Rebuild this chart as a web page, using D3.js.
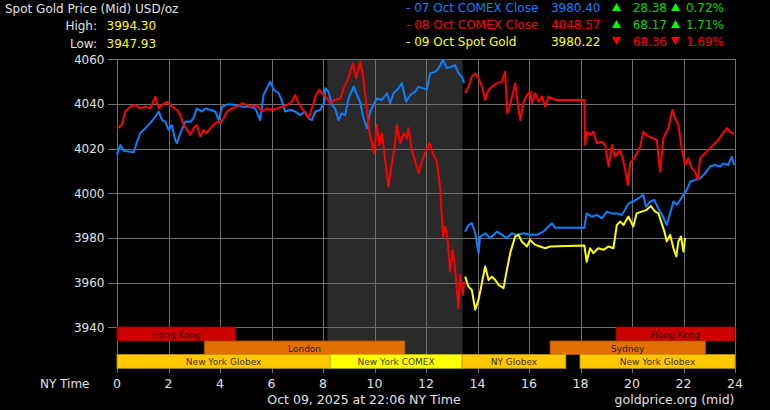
<!DOCTYPE html>
<html>
<head>
<meta charset="utf-8">
<script src="https://cdn.jsdelivr.net/npm/d3@7"></script>
<style>
  body { margin: 0; background: #000; }
  svg { display: block; font-family: "DejaVu Sans", sans-serif; }
</style>
</head>
<body>
<div id="chart"></div>
<script>
// hours in NY time, prices in USD/oz; null marks the gap at the COMEX close
const hourTicks = d3.range(0, 25, 2);
const priceTicks = [3940, 3960, 3980, 4000, 4020, 4040, 4060];

const oct07 = [[0,4017.2],[0.13,4021.6],[0.26,4019],[0.65,4018.4],[0.78,4023.1],[0.9,4026.9],[1.1,4029.1],[1.29,4031.4],[1.49,4034.3],[1.62,4036.6],[1.75,4032.8],[1.88,4032],[2.0,4028.4],[2.13,4030.6],[2.26,4023.9],[2.33,4022.4],[2.46,4026.9],[2.65,4032],[2.85,4032],[2.97,4033.6],[3.1,4038],[3.3,4036.6],[3.43,4038],[3.62,4037.3],[3.82,4036.6],[3.95,4032.8],[4.08,4038.8],[4.33,4039.9],[4.59,4039.5],[4.85,4038.8],[5.11,4038.8],[5.37,4038],[5.56,4032.8],[5.69,4044],[5.82,4047],[5.95,4050],[6.08,4046.3],[6.28,4044.8],[6.41,4041],[6.53,4036.6],[6.73,4037.3],[6.92,4036.6],[7.12,4035],[7.31,4036.6],[7.44,4033.6],[7.57,4032.8],[7.7,4036.6],[7.89,4037.3],[8.06,4041],
  [8.09,4047],[8.21,4045.5],[8.35,4039.5],[8.47,4038],[8.6,4032.8],[8.73,4035.8],[8.86,4035],[8.99,4042.5],[9.19,4047.7],[9.32,4044],[9.44,4041],[9.57,4033.6],[9.71,4029.1],[9.83,4036.6],[9.96,4039.5],[10.09,4042.5],[10.29,4041.8],[10.48,4044.8],[10.61,4040.3],[10.74,4044.8],[10.93,4047],[11.06,4049.3],[11.23,4041],[11.39,4044],[11.58,4045.5],[11.71,4047.7],[11.9,4047],[12.03,4046.3],[12.16,4053.7],[12.36,4054.5],[12.49,4056],[12.66,4059.7],[12.81,4056],[13.0,4056.7],[13.13,4057.4],[13.26,4053.7],[13.39,4052.2],[13.48,4049.3],[13.5,null],
  [13.52,3982.8],[13.65,3985.8],[13.78,3986.6],[13.91,3982.1],[14.04,3973.2],[14.1,3980.6],[14.3,3982.1],[14.49,3979.9],[14.75,3982.8],[14.95,3981.4],[15.14,3979.9],[15.33,3982.1],[15.53,3981.4],[15.79,3982.1],[16.04,3981.4],[16.3,3981.4],[16.56,3982.8],[16.76,3985.1],[16.89,3986.6],[17.01,3984.6],[18.15,3984.6],[18.24,3991],[18.44,3989.5],[18.63,3990.3],[18.83,3988.8],[19.02,3991.8],[19.22,3991],[19.41,3991],[19.6,3990.3],[19.73,3992.6],[19.86,3995.5],[20.05,3996.3],[20.25,3997.8],[20.44,3999.3],[20.54,3994],[20.7,3996.3],[20.86,3997],[21.02,3993.3],[21.17,3990.3],[21.35,3985.8],[21.48,3991],[21.61,3996.3],[21.74,3994.8],[21.87,3997],[22.0,3999.3],[22.13,4001.5],[22.26,4005.2],[22.45,4006],[22.65,4006.7],[22.84,4009],[23.03,4012],[23.22,4012.7],[23.42,4012],[23.55,4013.4],[23.74,4012.7],[23.87,4016.4],[23.97,4012.7]];

const oct08 = [[0,4029.1],[0.19,4030.6],[0.32,4036.6],[0.52,4038.8],[0.71,4039.5],[0.9,4038],[1.1,4038.8],[1.29,4038],[1.49,4043.3],[1.62,4038],[1.75,4039.5],[1.94,4041],[2.13,4038.8],[2.33,4037.3],[2.46,4035],[2.59,4030.6],[2.72,4028.4],[2.85,4026.1],[2.97,4029.1],[3.1,4030.6],[3.23,4025.4],[3.36,4028.4],[3.49,4026.9],[3.62,4029.1],[3.75,4030.6],[3.88,4032],[4.01,4031.4],[4.14,4033.6],[4.27,4036.6],[4.46,4038],[4.66,4038.8],[4.85,4040.3],[5.05,4039.5],[5.24,4038.8],[5.43,4039.5],[5.63,4036.6],[5.82,4038],[6.02,4037.3],[6.21,4038],[6.41,4038.8],[6.6,4039.5],[6.79,4041],[6.92,4044],[7.05,4040.3],[7.18,4038],[7.31,4035.8],[7.44,4033.6],[7.57,4038],[7.7,4043.3],[7.86,4046.3],[8.02,4044],
  [8.09,4043.3],[8.28,4040.3],[8.47,4041.8],[8.67,4042.5],[8.8,4047],[8.93,4050],[9.06,4054.5],[9.16,4058.2],[9.29,4051.5],[9.44,4058.9],[9.55,4053],[9.68,4039.5],[9.8,4027.6],[9.9,4022.4],[9.99,4017.9],[10.09,4030.6],[10.19,4021.6],[10.29,4026.9],[10.42,4014.2],[10.54,4003],[10.64,4011.2],[10.77,4020.1],[10.87,4030.6],[11.0,4022.4],[11.15,4026.9],[11.26,4024.6],[11.32,4029.1],[11.45,4019.4],[11.58,4014.2],[11.71,4009],[11.84,4014.2],[12.01,4019.4],[12.14,4022.4],[12.29,4017.2],[12.42,4014.2],[12.55,4002.3],[12.66,3980.6],[12.74,3985.1],[12.83,3980.6],[12.94,3965],[13.04,3974.7],[13.13,3966.5],[13.26,3948.6],[13.33,3963.5],[13.43,3954.5],[13.48,3960.5],[13.5,null],
  [13.52,4044.8],[13.65,4047.7],[13.78,4052.2],[13.91,4053.7],[14.04,4051.5],[14.17,4047.7],[14.3,4041.8],[14.43,4046.3],[14.56,4047.7],[14.75,4049.3],[14.95,4050],[15.07,4054.5],[15.16,4035.8],[15.27,4039.5],[15.46,4049.3],[15.59,4038],[15.66,4032.8],[15.79,4041],[15.92,4044],[16.04,4045.5],[16.11,4040.3],[16.24,4044.8],[16.37,4041],[16.5,4043.3],[16.63,4038.8],[16.76,4043.3],[16.89,4042.5],[17.01,4041.8],[18.15,4041.8],[18.18,4021.6],[18.24,4027.6],[18.37,4026.1],[18.5,4027.6],[18.63,4022.4],[18.83,4023.1],[18.96,4021.6],[19.09,4012],[19.22,4021.6],[19.34,4016.4],[19.54,4019.4],[19.67,4014.2],[19.84,4003.7],[19.93,4013.4],[20.12,4016.4],[20.32,4020.9],[20.44,4027.6],[20.64,4025.4],[20.83,4024.6],[20.96,4023.9],[21.09,4009.7],[21.22,4024.6],[21.41,4029.1],[21.57,4037.3],[21.67,4033.6],[21.8,4030.6],[21.93,4020.1],[22.06,4012.7],[22.19,4015.7],[22.32,4011.2],[22.45,4009.7],[22.55,4006],[22.65,4015.7],[22.84,4017.9],[23.03,4020.1],[23.22,4022.4],[23.35,4023.9],[23.48,4026.1],[23.68,4029.1],[23.87,4026.9],[23.97,4026.9]];

const oct09 = [[13.52,3962.7],[13.65,3958.2],[13.78,3956.7],[13.91,3947.9],[14.04,3952.3],[14.17,3959.8],[14.3,3967.2],[14.43,3961.2],[14.56,3962.7],[14.69,3961.2],[14.82,3959],[15.01,3957.5],[15.14,3965.7],[15.27,3973.2],[15.46,3980.6],[15.59,3981.4],[15.72,3978.4],[15.92,3976.2],[16.04,3979.1],[16.24,3976.9],[16.43,3976.2],[16.63,3975.4],[16.82,3976.2],[18.15,3976.6],[18.24,3969.4],[18.37,3975.4],[18.5,3973.2],[18.69,3975.4],[18.89,3974.7],[19.09,3976.2],[19.28,3975.4],[19.41,3985.8],[19.54,3987.3],[19.67,3985.8],[19.86,3989.6],[20.05,3985.1],[20.18,3991],[20.38,3991.8],[20.57,3992.6],[20.73,3994.3],[20.9,3991.8],[21.03,3991],[21.13,3987.3],[21.26,3982.8],[21.35,3978.4],[21.48,3981.4],[21.61,3975.4],[21.72,3971.7],[21.8,3978.4],[21.9,3980.6],[22.0,3973.9],[22.06,3979.9]];

const seriesNames = ["07 Oct COMEX Close", "08 Oct COMEX Close", "09 Oct Spot Gold"];
const seriesColors = ["#0a80ff", "#ff0000", "#ffff00"];
const seriesLast = ["3980.40", "4048.57", "3980.22"];
const seriesChange = ["28.38", "68.17", "68.36"];
const seriesPct = ["0.72%", "1.71%", "1.69%"];
const seriesUp = [true, true, false];

const sessionNames = ["Hong Kong", "Hong Kong", "London", "Sydney", "New York Globex", "New York COMEX", "NY Globex", "New York Globex"];
const sessionStart = [0, 19.38, 3.39, 16.82, 0, 8.28, 13.4, 17.98];
const sessionEnd = [4.6, 24, 11.18, 22.85, 8.28, 13.4, 17.43, 24];
const sessionRow = [0, 0, 1, 1, 2, 2, 2, 2];
const comexShade = [8.17, 13.42];

const width = 770, height = 410;
const svg = d3.select("#chart").append("svg")
  .attr("width", width)
  .attr("height", height);

svg.append("rect").attr("width", width).attr("height", height).attr("fill", "#000");

const x = d3.scaleLinear().domain([0, 24]).range([117, 735]);
const y = d3.scaleLinear().domain([3940, 4060]).range([327.3, 59.3]);

const rowTop = [327, 341, 354.5];
const rowH = [14, 13.5, 13.8];
const rowColors = ["#cc0000", "#e07000", "#ffc800"];

// comex shade
svg.append("rect")
  .attr("x", x(comexShade[0]))
  .attr("y", y(4060))
  .attr("width", x(comexShade[1]) - x(comexShade[0]))
  .attr("height", rowTop[2] - y(4060))
  .attr("fill", "#2a2a2a");

const grid = svg.append("g").attr("stroke", "#707070").attr("shape-rendering", "crispEdges");
grid.selectAll(".vx")
  .data(hourTicks)
  .enter()
  .append("line")
  .attr("x1", d => Math.round(x(d)) + 0.5)
  .attr("x2", d => Math.round(x(d)) + 0.5)
  .attr("y1", y(4060))
  .attr("y2", 373);
grid.selectAll(".hy")
  .data(priceTicks)
  .enter()
  .append("line")
  .attr("x1", 108)
  .attr("x2", x(24) + 1)
  .attr("y1", d => Math.round(y(d)) + 0.5)
  .attr("y2", d => Math.round(y(d)) + 0.5);

// trading sessions
const sessions = svg.append("g");
sessionNames.forEach((name, i) => {
  const r = sessionRow[i];
  const fill = name === "New York COMEX" ? "#ffff00" : rowColors[r];
  sessions.append("rect")
    .attr("x", x(sessionStart[i]))
    .attr("y", rowTop[r])
    .attr("width", x(sessionEnd[i]) - x(sessionStart[i]))
    .attr("height", rowH[r])
    .attr("fill", fill)
    .attr("stroke", d3.color(fill).darker(0.8))
    .attr("stroke-width", 0.8);
  sessions.append("text")
    .attr("x", (x(sessionStart[i]) + x(sessionEnd[i])) / 2)
    .attr("y", rowTop[r] + 10.5)
    .attr("text-anchor", "middle")
    .attr("font-size", 9)
    .attr("fill", "rgba(0,0,0,0.8)")
    .text(name);
});

// y axis labels
svg.selectAll(".ylab")
  .data(priceTicks)
  .enter()
  .append("text")
  .attr("x", 104.5)
  .attr("y", d => y(d) + 4.5)
  .attr("text-anchor", "end")
  .attr("font-size", 12)
  .attr("fill", "#e0e0e0")
  .text(d => d);

// x axis labels
svg.selectAll(".xlab")
  .data(hourTicks)
  .enter()
  .append("text")
  .attr("x", d => x(d))
  .attr("y", 387.5)
  .attr("text-anchor", "middle")
  .attr("font-size", 12.5)
  .attr("fill", "#e0e0e0")
  .text(d => d);

svg.append("text").attr("x", 40).attr("y", 387.5).attr("font-size", 12)
  .attr("fill", "#e0e0e0").text("NY Time");

// price lines
const line = d3.line()
  .defined(d => d[1] != null)
  .x(d => x(d[0]))
  .y(d => y(d[1]));

[oct07, oct08, oct09].forEach((data, i) => {
  svg.append("path")
    .datum(data)
    .attr("d", line)
    .attr("fill", "none")
    .attr("stroke", seriesColors[i])
    .attr("stroke-width", 2)
    .attr("stroke-linejoin", "round");
});

// header
svg.append("text").attr("x", 5).attr("y", 12.5).attr("font-size", 12)
  .attr("fill", "#e0e0e0").text("Spot Gold Price (Mid) USD/oz");
svg.append("text").attr("x", 97).attr("y", 29.5).attr("font-size", 12)
  .attr("text-anchor", "end").attr("fill", "#e0e0e0").text("High:");
svg.append("text").attr("x", 106.5).attr("y", 29.5).attr("font-size", 12)
  .attr("fill", "#ffff00").text("3994.30");
svg.append("text").attr("x", 97).attr("y", 47.5).attr("font-size", 12)
  .attr("text-anchor", "end").attr("fill", "#e0e0e0").text("Low:");
svg.append("text").attr("x", 106.5).attr("y", 47.5).attr("font-size", 12)
  .attr("fill", "#ffff00").text("3947.93");

// legend
const rowY = [11.5, 28.5, 45.5];
seriesNames.forEach((name, i) => {
  const g = svg.append("g").attr("font-size", 12);
  const up = seriesUp[i];
  const chg = up ? "#00dd00" : "#ff0000";
  g.append("text").attr("x", 406).attr("y", rowY[i]).attr("fill", seriesColors[i]).text("- " + name);
  g.append("text").attr("x", 600.5).attr("y", rowY[i]).attr("text-anchor", "end").attr("fill", seriesColors[i]).text(seriesLast[i]);
  [[616.5, 667, seriesChange[i]], [675.5, 724, seriesPct[i]]].forEach(([ax, tx, label]) => {
    g.append("path")
      .attr("transform", `translate(${ax},${rowY[i] - 4.5})`)
      .attr("d", up ? "M-4.5,4L4.5,4L0,-4Z" : "M-4.5,-4L4.5,-4L0,4Z")
      .attr("fill", up ? "#00ff00" : "#ff0000");
    g.append("text").attr("x", tx).attr("y", rowY[i]).attr("text-anchor", "end").attr("fill", chg).text(label);
  });
});

// footer
svg.append("text").attr("x", 364).attr("y", 404).attr("text-anchor", "middle").attr("font-size", 12.5)
  .attr("fill", "#e0e0e0").text("Oct 09, 2025 at 22:06 NY Time");
svg.append("text").attr("x", 734.5).attr("y", 404).attr("text-anchor", "end").attr("font-size", 12.5)
  .attr("fill", "#e0e0e0").text("goldprice.org (mid)");
</script>
</body>
</html>
